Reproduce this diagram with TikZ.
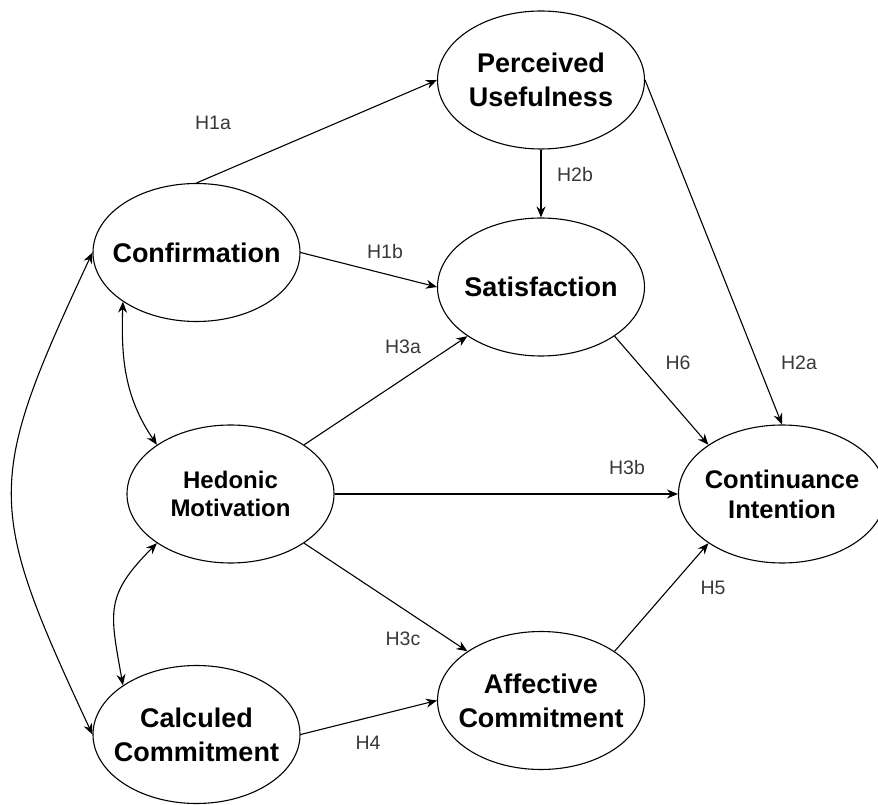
\documentclass[tikz,border=0pt]{standalone}
\usepackage{fontspec}
\setmainfont{Liberation Sans}
\usetikzlibrary{shapes.geometric,arrows.meta}
\begin{document}
\begin{tikzpicture}[x=1pt,y=1pt,
  latent/.style={ellipse,draw,line width=1.1pt,minimum width=207pt,minimum height=138pt,inner sep=0pt},
  bigtxt/.style={font=\fontsize{27}{34}\selectfont\bfseries,align=center,inner sep=0pt},
  midtxt/.style={font=\fontsize{25.5}{30}\selectfont\bfseries,align=center,inner sep=0pt},
  smalltxt/.style={font=\fontsize{24}{28}\selectfont\bfseries,align=center,inner sep=0pt},
  hyp/.style={font=\fontsize{19.5}{22}\selectfont,text=black!78,inner sep=0pt},
  arr/.style={line width=1.1pt,-{Stealth[length=11pt,width=9pt]}},
  darr/.style={line width=1.1pt,{Stealth[length=11pt,width=9pt]}-{Stealth[length=11pt,width=9pt]}}
]
\useasboundingbox (0,0) rectangle (878,804);
% constructs
\node[latent,label={[bigtxt]center:Confirmation}] (conf) at (196.5,551.5) {};
\node[latent,label={[bigtxt]center:Perceived\\Usefulness}] (pu) at (541,724) {};
\node[latent,label={[bigtxt]center:Satisfaction}] (sat) at (541,517) {};
\node[latent,label={[smalltxt]center:Hedonic\\Motivation}] (hm) at (230.5,310) {};
\node[latent,label={[midtxt]center:Continuance\\Intention}] (ci) at (782,310) {};
\node[latent,label={[bigtxt]center:Calculed\\Commitment}] (cc) at (196.5,69.5) {};
\node[latent,label={[bigtxt]center:Affective\\Commitment}] (ac) at (541,103.5) {};
% paths
\draw[arr] (conf.north) -- (pu.west);
\draw[arr] (conf.east) -- (sat.west);
\draw[arr] (pu.south) -- (sat.north);
\draw[arr] (pu.east) -- (ci.north);
\draw[arr] (sat.south east) -- (ci.north west);
\draw[arr] (hm.north east) -- (sat.south west);
\draw[arr] (hm.east) -- (ci.west);
\draw[arr] (hm.south east) -- (ac.north west);
\draw[arr] (cc.east) -- (ac.west);
\draw[arr] (ac.north east) -- (ci.south west);
% correlations
\draw[darr] (conf.west) to[out=245,in=115,looseness=1.35] (cc.west);
\draw[darr] (conf.south west) to[out=268,in=124] (hm.north west);
\draw[darr] (hm.south west) to[out=225,in=100,looseness=1.3] (cc.north west);
% hypothesis labels
\node[hyp] (h1a) at (213,681) {H1a};
\node[hyp] (h1b) at (385,552) {H1b};
\node[hyp] (h3a) at (403,457) {H3a};
\node[hyp] (h2b) at (575,629) {H2b};
\node[hyp] (h6)  at (678,441) {H6};
\node[hyp] (h2a) at (799,441) {H2a};
\node[hyp] (h3b) at (627,336) {H3b};
\node[hyp] (h5)  at (713,216) {H5};
\node[hyp] (h3c) at (403,165) {H3c};
\node[hyp] (h4)  at (368,61) {H4};
\end{tikzpicture}
\end{document}
